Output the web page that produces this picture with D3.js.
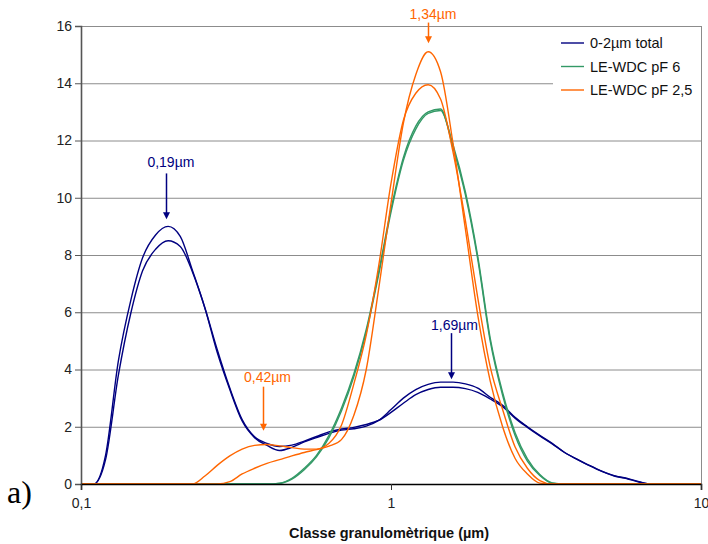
<!DOCTYPE html>
<html><head><meta charset="utf-8">
<script src="https://cdn.jsdelivr.net/npm/d3@7"></script>
<style>
body{margin:0;background:#fff}
svg{display:block}
text{font-family:Arial,"Liberation Sans",sans-serif}
</style>
</head><body>
<svg id="c" width="708" height="544"></svg>
<script>
// ---- data ----
const sizes=[0.1,0.11,0.12,0.132,0.145,0.158,0.174,0.191,0.209,0.229,0.251,0.275,0.302,0.331,0.363,0.398,0.437,0.479,0.525,0.575,0.631,0.692,0.759,0.832,0.912,1.0,1.096,1.202,1.318,1.445,1.585,1.738,1.905,2.089,2.291,2.512,2.754,3.02,3.311,3.631,3.981,4.365,4.786,5.248,5.754,6.31,6.918,7.586,8.318,9.12,10.0];
const seriesNames=["0-2µm total","LE-WDC pF 6","LE-WDC pF 2,5"];
const seriesColors=["#000080","#339966","#FF6600"];
const navyA=[0,0,1.0,4.3,6.45,7.9,8.7,9.0,8.65,7.45,6.15,4.6,3.3,2.2,1.62,1.35,1.17,1.28,1.47,1.62,1.77,1.88,1.93,2.02,2.22,2.6,3.0,3.3,3.48,3.56,3.56,3.5,3.35,3.03,2.75,2.33,2.0,1.7,1.42,1.1,0.87,0.65,0.45,0.29,0.2,0.08,0,0,0,0,0];
const navyB=[0,0,0.85,3.8,6.0,7.45,8.2,8.5,8.3,7.4,6.15,4.7,3.35,2.25,1.65,1.42,1.31,1.36,1.5,1.66,1.82,1.92,1.98,2.08,2.22,2.5,2.82,3.12,3.3,3.38,3.38,3.33,3.2,2.97,2.7,2.3,1.98,1.68,1.4,1.1,0.86,0.64,0.44,0.28,0.19,0.07,0,0,0,0,0];
const green1=[0,0,0,0,0,0,0,0,0,0,0,0,0,0,0,0,0.03,0.2,0.55,1.0,1.7,2.65,3.85,5.4,7.4,9.6,11.4,12.5,13.0,13.1,11.75,10.1,7.85,5.0,3.1,1.7,0.8,0.3,0.03,0,0,0,0,0,0,0,0,0,0,0,0];
const green2=[0,0,0,0,0,0,0,0,0,0,0,0,0,0,0,0,0.02,0.17,0.5,0.95,1.62,2.55,3.75,5.3,7.3,9.5,11.3,12.4,12.95,13.05,11.85,10.2,7.95,5.1,3.2,1.8,0.88,0.33,0.04,0,0,0,0,0,0,0,0,0,0,0,0];
const orange1=[0,0,0,0,0,0,0,0,0,0,0,0,0.08,0.35,0.55,0.72,0.85,0.98,1.1,1.2,1.32,1.55,2.4,4.0,6.8,9.8,12.6,14.3,15.1,14.4,11.9,8.9,5.9,3.6,2.0,0.9,0.35,0.03,0,0,0,0,0,0,0,0,0,0,0,0,0];
const orange2=[0,0,0,0,0,0,0,0,0,0,0.28,0.65,0.98,1.22,1.35,1.38,1.33,1.27,1.22,1.22,1.42,2.05,3.5,5.2,7.6,10.5,12.7,13.65,13.95,13.45,11.6,9.2,6.5,4.1,2.6,1.3,0.55,0.12,0,0,0,0,0,0,0,0,0,0,0,0,0];
const curveValues=[navyA,navyB,green1,green2,orange1,orange2];
const curveSeries=[0,0,1,1,2,2];
const yTicks=[0,2,4,6,8,10,12,14,16];
const xTicks=[0.1,1,10];
const xTickLabels=["0,1","1","10"];
const annLabels=["0,19µm","0,42µm","1,34µm","1,69µm"];
const annSeries=[0,2,2,0];
const annArrowX=[0.1875,0.3856,1.319,1.562];
const annTextX=[0.195,0.3997,1.366,1.603];
const annTextY=[11.08,3.57,16.25,5.37];
const annFrom=[10.85,3.4,16.12,5.27];
const annTo=[9.25,1.86,15.4,3.66];
const xTitle="Classe granulomètrique (µm)";
const panelLabel="a)";

// ---- drawing ----
const svg=d3.select("#c");
const L=81,R=701,T=26,B=484;
const x=d3.scaleLog().domain([0.1,10]).range([L,R]);
const y=d3.scaleLinear().domain([0,16]).range([B,T]);

// gridlines
svg.append("g").selectAll("line").data(yTicks.filter(d=>d>0)).join("line")
  .attr("x1",L).attr("x2",R).attr("y1",d=>y(d)+0.5).attr("y2",d=>y(d)+0.5)
  .attr("stroke","#8c8c8c").attr("stroke-width",1);
// right border
svg.append("line").attr("x1",R+0.5).attr("x2",R+0.5).attr("y1",T).attr("y2",B)
  .attr("stroke","#8c8c8c").attr("stroke-width",1);

// legend background (covers gridlines)
const lg=svg.append("g");
lg.append("rect").attr("x",553).attr("y",T+1.5).attr("width",R-553).attr("height",78).attr("fill","#fff");

// curves
const line=d3.line().x((d,i)=>x(sizes[i])).y(d=>y(d)).curve(d3.curveMonotoneX);
svg.append("g").selectAll("path").data(curveValues).join("path")
  .attr("d",d=>line(d)).attr("fill","none")
  .attr("stroke",(d,i)=>seriesColors[curveSeries[i]])
  .attr("stroke-width",1.4).attr("stroke-linejoin","round");

// y axis
const ya=svg.append("g").attr("transform",`translate(${L},0)`)
  .call(d3.axisLeft(y).tickValues(yTicks).tickSize(6).tickPadding(3).tickFormat(d3.format("d")));
ya.select(".domain").attr("stroke","#555").attr("stroke-width",1.6);
ya.selectAll(".tick line").attr("stroke","#555");
ya.selectAll(".tick text").attr("font-size",14).attr("fill","#222");

// x axis
const xa=svg.append("g").attr("transform",`translate(0,${B})`)
  .call(d3.axisBottom(x).tickValues(xTicks).tickSize(6).tickPadding(8).tickFormat((d,i)=>xTickLabels[i]));
xa.select(".domain").attr("stroke","#000").attr("stroke-width",1.6);
xa.selectAll(".tick line").attr("stroke","#333");
xa.selectAll(".tick text").attr("font-size",14).attr("fill","#222");

// annotations
const ann=svg.append("g");
annLabels.forEach((t,i)=>{
  const c=seriesColors[annSeries[i]];
  const ax=Math.round(x(annArrowX[i]))+0.5;
  const tip=y(annTo[i]);
  ann.append("text").attr("x",x(annTextX[i])).attr("y",y(annTextY[i]))
    .attr("text-anchor","middle").attr("font-size",14).attr("fill",c).text(t);
  ann.append("line").attr("x1",ax).attr("x2",ax).attr("y1",y(annFrom[i])).attr("y2",tip-4)
    .attr("stroke",c).attr("stroke-width",1.5);
  ann.append("path").attr("d",`M${ax-3.5},${tip-7}L${ax+3.5},${tip-7}L${ax},${tip}Z`).attr("fill",c);
});

// legend
seriesNames.forEach((n,i)=>{
  const ly=43+i*23.5;
  lg.append("line").attr("x1",561).attr("x2",584).attr("y1",ly).attr("y2",ly)
    .attr("stroke",seriesColors[i]).attr("stroke-width",1.4);
  lg.append("text").attr("x",590).attr("y",ly+5).attr("font-size",14.5).attr("fill","#111").text(n);
});

// titles
svg.append("text").attr("x",389).attr("y",538).attr("text-anchor","middle")
  .attr("font-size",14.5).attr("font-weight","bold").attr("fill","#111").text(xTitle);
svg.append("text").attr("x",7).attr("y",503)
  .style("font-family","'Liberation Serif','Times New Roman',serif")
  .attr("font-size",32).attr("fill","#000").text(panelLabel);
</script>
</body></html>
